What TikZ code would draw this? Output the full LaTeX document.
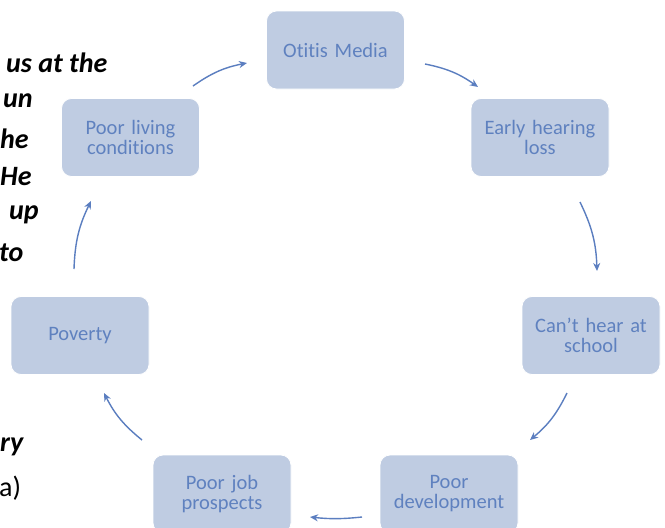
\documentclass[tikz,border=0pt]{standalone}
\usepackage{fontspec}
\setmainfont{Carlito}[Ligatures=NoCommon]
\usetikzlibrary{arrows.meta}
\definecolor{boxfill}{HTML}{BFCCE2}
\definecolor{boxtext}{HTML}{5F81BF}
\definecolor{arrowblue}{HTML}{5B7EC0}
\tikzset{
  cyclebox/.style={draw=white, line width=0.8pt, fill=boxfill, rounded corners=10pt,
    minimum width=138pt, minimum height=78pt, text width=130pt, align=center,
    text=boxtext, inner sep=0pt,
    font=\fontsize{20.5pt}{20pt}\selectfont},
  cyclearrow/.style={draw=arrowblue, line width=1.4pt,
    -{Stealth[length=8pt,width=7pt,inset=2.5pt]}, bend left=12},
  sidetext/.style={anchor=west, inner sep=0pt, font=\fontsize{28pt}{34pt}\selectfont\bfseries\itshape},
}
\begin{document}
\begin{tikzpicture}[x=1pt,y=-1pt]
\useasboundingbox (0,0) rectangle (665,528);
\clip (0,0) rectangle (665,528);
\fill[white] (0,0) rectangle (665,528);

% fragments of the paragraph on the left
\node[sidetext] (t1) at (6,63) {us at the};
\node[sidetext] (t2) at (3,101) {un};
\node[sidetext] (t3) at (0,139) {he};
\node[sidetext] (t4) at (0,177) {He};
\node[sidetext] (t5) at (9,215) {up};
\node[sidetext] (t6) at (-1,253) {to};
\node[sidetext] (t7) at (0,447) {ry};
\node[sidetext, font=\fontsize{28pt}{34pt}\selectfont] (t8) at (-1,488) {a)};

% the cycle
\node[cyclebox] (otitis)  at (335.5,50)   {Otitis Media};
\node[cyclebox] (early)   at (540,137.5)  {Early hearing\\loss};
\node[cyclebox] (cant)    at (591,335.5)  {Can’t hear at\\school};
\node[cyclebox] (pdev)    at (449,494)    {Poor\\development};
\node[cyclebox] (pjob)    at (222,494)    {Poor job\\prospects};
\node[cyclebox] (poverty) at (80,335.5)   {Poverty};
\node[cyclebox] (pliving) at (130.5,137.5){Poor living\\conditions};

% arrow ends between the boxes
\coordinate (a1s) at (425,64);  \coordinate (a1e) at (478,87);
\coordinate (a2s) at (580,202); \coordinate (a2e) at (597,271);
\coordinate (a3s) at (567,393); \coordinate (a3e) at (530,440);
\coordinate (a4s) at (362,517); \coordinate (a4e) at (310,517);
\coordinate (a5s) at (142,440); \coordinate (a5e) at (104,393);
\coordinate (a6s) at (74,269);  \coordinate (a6e) at (91,201);
\coordinate (a7s) at (193,86);  \coordinate (a7e) at (247,63);

\draw[cyclearrow] (a1s) to (a1e);
\draw[cyclearrow] (a2s) to (a2e);
\draw[cyclearrow] (a3s) to (a3e);
\draw[cyclearrow, bend left=6] (a4s) to (a4e);
\draw[cyclearrow] (a5s) to (a5e);
\draw[cyclearrow] (a6s) to (a6e);
\draw[cyclearrow] (a7s) to (a7e);
\end{tikzpicture}
\end{document}
